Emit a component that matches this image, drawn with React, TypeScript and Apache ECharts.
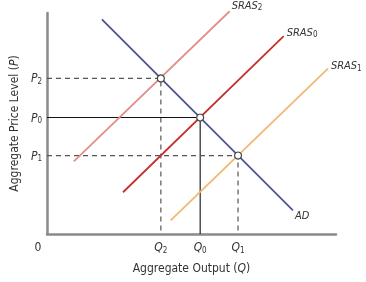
import React, { useEffect, useRef } from "react";
import * as echarts from "echarts";

// Curves (arbitrary units: Q on x 0–100, P on y 0–100)
const adCurve: number[][] = [[19.0, 97.1], [85.1, 10.7]];
const sras2Curve: number[][] = [[9.3, 32.9], [63.2, 100.8]];
const sras0Curve: number[][] = [[26.3, 18.9], [81.9, 89.5]];
const sras1Curve: number[][] = [[42.8, 6.2], [97.2, 74.8]];

// Equilibria
const qValues = [39.4, 53.0, 66.1]; // Q2, Q0, Q1
const pValues = [70.4, 52.7, 35.5]; // P2, P0, P1
const qNames = ["2", "0", "1"];
const pNames = ["2", "0", "1"];

const FONT = "'Liberation Sans Narrow', 'DejaVu Sans Condensed', 'Liberation Sans', sans-serif";

export default function App() {
  const ref = useRef<HTMLDivElement>(null);
  useEffect(() => {
    if (!ref.current) return;
    const chart = echarts.init(ref.current, undefined, { renderer: "svg" });

    const subRich = {
      m: { fontFamily: FONT, fontStyle: "italic", fontSize: 12, color: "#333", lineHeight: 14 },
      s: { fontFamily: FONT, fontSize: 8, color: "#333", lineHeight: 14, verticalAlign: "bottom" },
      z: { fontFamily: FONT, fontSize: 12, color: "#333", lineHeight: 14, padding: [0, 18, 0, 0] },
      n: { fontFamily: FONT, fontSize: 12, color: "#333" },
      ni: { fontFamily: FONT, fontSize: 12, color: "#333", fontStyle: "italic" },
    };

    const endLabel = (main: string, sub: string, offset: number[]) => ({
      show: true,
      distance: 2,
      offset,
      formatter: sub ? `{m|${main}}{s|${sub}}` : `{m|${main}}`,
      rich: {
        m: { fontFamily: FONT, fontStyle: "italic", fontSize: 11, color: "#333", lineHeight: 13 },
        s: { fontFamily: FONT, fontSize: 8, color: "#333", lineHeight: 13, verticalAlign: "bottom" },
      },
    });

    const curve = (name: string, data: number[][], color: string, lbl: any) => ({
      name,
      type: "line",
      clip: false,
      symbol: "none",
      lineStyle: { color, width: 1.8 },
      data,
      endLabel: lbl,
      z: 3,
    });

    const guide = (i: number, solid: boolean) => ({
      type: "line",
      symbol: "none",
      clip: false,
      lineStyle: solid
        ? { color: "#111", width: 1.1, type: "solid" }
        : { color: "#555", width: 1.2, type: [5, 4] },
      data: [[0, pValues[i]], [qValues[i], pValues[i]], [qValues[i], 0]],
      z: 2,
    });

    chart.setOption({
      animation: false,
      grid: { left: 47, right: 30, top: 13, bottom: 48 },
      xAxis: {
        type: "value",
        min: 0,
        max: 100,
        splitLine: { show: false },
        axisTick: { show: false },
        axisLine: { lineStyle: { color: "#8a8a8a", width: 2.5 } },
        axisLabel: {
          customValues: [0, ...qValues],
          margin: 6,
          formatter: (v: number) => {
            if (v === 0) return "{z|0}";
            const i = qValues.indexOf(v);
            return `{m|Q}{s|${qNames[i]}}`;
          },
          rich: subRich,
        },
        name: "{n|Aggregate Output (}{ni|Q}{n|)}",
        nameLocation: "middle",
        nameGap: 28,
        nameTextStyle: { rich: subRich },
      },
      yAxis: {
        type: "value",
        min: 0,
        max: 100,
        splitLine: { show: false },
        axisTick: { show: false },
        axisLine: { lineStyle: { color: "#8a8a8a", width: 2.5 } },
        axisLabel: {
          customValues: pValues,
          margin: 5,
          formatter: (v: number) => {
            const i = pValues.indexOf(v);
            return `{m|P}{s|${pNames[i]}}`;
          },
          rich: subRich,
        },
        name: "{n|Aggregate Price Level (}{ni|P}{n|)}",
        nameLocation: "middle",
        nameGap: 26,
        nameTextStyle: { rich: subRich },
      },
      series: [
        guide(0, false),
        guide(1, true),
        guide(2, false),
        curve("SRAS2", sras2Curve, "#e28e8c", endLabel("SRAS", "2", [0, -6])),
        curve("SRAS0", sras0Curve, "#c2312c", endLabel("SRAS", "0", [1, -4])),
        curve("SRAS1", sras1Curve, "#f0b872", endLabel("SRAS", "1", [1, -3])),
        curve("AD", adCurve, "#4f5392", endLabel("AD", "", [0, 5])),
        {
          type: "scatter",
          symbol: "circle",
          symbolSize: 7,
          itemStyle: { color: "#fff", borderColor: "#444", borderWidth: 1.2, opacity: 1 },
          data: qValues.map((q, i) => [q, pValues[i]]),
          z: 5,
        },
      ],
    });
    return () => chart.dispose();
  }, []);
  return <div ref={ref} style={{ position: "fixed", left: 0, top: 0, width: 366, height: 282 }} />;
}
